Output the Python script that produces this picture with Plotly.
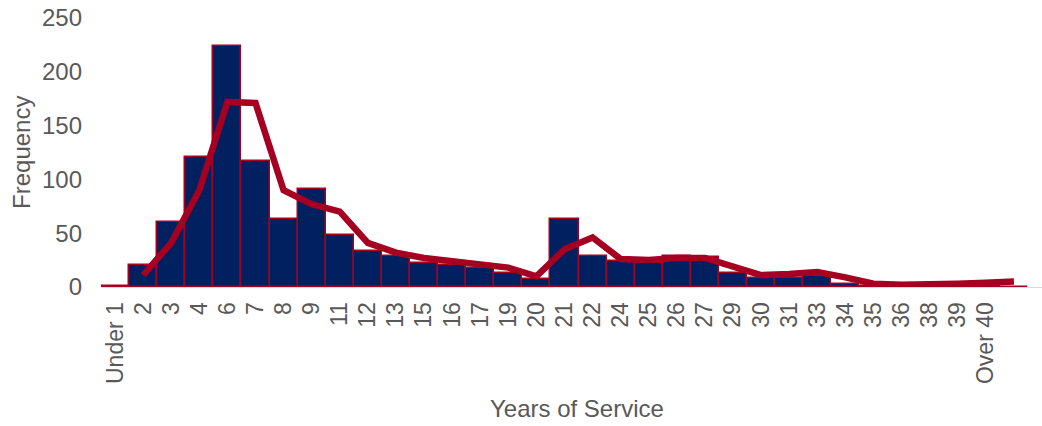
import plotly.graph_objects as go

categories = ["Under 1", "2", "3", "4", "6", "7", "8", "9", "11", "12", "13", "15",
              "16", "17", "19", "20", "21", "22", "24", "25", "26", "27", "29", "30",
              "31", "33", "34", "35", "36", "38", "39", "Over 40", " "]
frequency = [1, 20, 60, 121, 224, 117, 63, 91, 48, 33, 29, 22,
             20, 18, 13, 7, 63, 29, 24, 22, 29, 28, 13, 8,
             8, 10, 3, 1, 1, 1, 1, 2, 0]
moving_avg = [None, 11, 41, 90, 172, 171, 90, 77, 70, 41, 32, 27,
              24, 22, 18, 10, 35, 46, 26, 25, 27, 27, 19, 11,
              12, 14, 9, 3, 2, 2, 3, 4, 5]
y_ticks = [0, 50, 100, 150, 200, 250]

NAVY = "#002060"
RED = "#A50021"
GREY_TXT = "#595959"
FONT = "Liberation Sans, Arial, sans-serif"

fig = go.Figure()
fig.add_trace(go.Bar(
    x=categories, y=frequency,
    marker=dict(color=NAVY, line=dict(color=RED, width=1.5)),
    showlegend=False,
))
fig.add_trace(go.Scatter(
    x=categories, y=moving_avg,
    mode="lines",
    line=dict(color=RED, width=6.5),
    connectgaps=False,
    showlegend=False,
))

fig.update_layout(
    width=1042, height=426,
    margin=dict(l=101, r=0, t=18, b=139),
    paper_bgcolor="white", plot_bgcolor="white",
    bargap=0,
    font=dict(family=FONT, size=23, color=GREY_TXT),
    annotations=[
        dict(text="Years of Service", xref="paper", yref="paper",
             x=0.506, y=-0.453, xanchor="center", yanchor="middle",
             showarrow=False, font=dict(family=FONT, size=24, color=GREY_TXT)),
        dict(text="Frequency", xref="paper", yref="paper",
             x=-0.084, y=0.502, xanchor="center", yanchor="middle",
             textangle=-90, showarrow=False,
             font=dict(family=FONT, size=24, color=GREY_TXT)),
    ],
)
fig.update_xaxes(
    type="category",
    range=[-0.5, 33.0],
    automargin=False,
    tickmode="array", tickvals=categories, ticktext=categories,
    showline=True, linecolor="#D9D9D9", linewidth=1,
    showgrid=False, zeroline=False,
    tickangle=-90,
    ticks="", ticklabelstandoff=5,
    ticklabeloverflow="allow",
    tickfont=dict(family=FONT, size=23, color=GREY_TXT),
)
fig.update_yaxes(
    range=[0, 250],
    automargin=False,
    tickvals=y_ticks,
    showline=False, showgrid=False, zeroline=False,
    ticks="", ticklabelstandoff=18,
    ticklabeloverflow="allow",
    tickfont=dict(family=FONT, size=24, color=GREY_TXT),
)

fig.write_html(
    "out.html",
    config={"displayModeBar": False},
    post_script="document.body.style.margin='0';document.body.style.overflow='hidden';",
)
